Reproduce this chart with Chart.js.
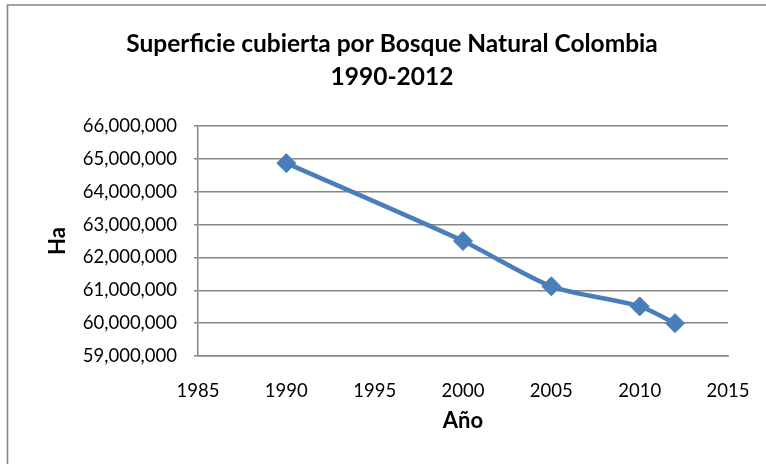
<!DOCTYPE html>
<html>
<head>
<meta charset="utf-8">
<script src="https://cdn.jsdelivr.net/npm/chart.js@4/dist/chart.umd.min.js"></script>
<style>
  html, body { margin: 0; padding: 0; background: #fff; }
  canvas { display: block; }
</style>
</head>
<body>
<canvas id="chart" width="766" height="464"></canvas>
<script>
/* Superficie cubierta por Bosque Natural – Colombia 1990-2012 */
const years = [1990, 2000, 2005, 2010, 2012];
const hectares = [64870000, 62500000, 61120000, 60510000, 60000000];
const titleLines = ["Superficie cubierta por Bosque Natural Colombia", "1990-2012"];
const xTitle = "Año";
const yTitle = "Ha";

const BLUE = "#4A7EBB";
const GRID = "#868686";
const FONT = "Lato, 'Open Sans', sans-serif";

// thin gray frame of the (cropped) chart object: only left and top edges show
const frame = {
  id: "frame",
  beforeDraw(chart) {
    const c = chart.ctx;
    c.save();
    c.fillStyle = "#fff";
    c.fillRect(0, 0, chart.width, chart.height);
    c.strokeStyle = GRID; c.lineWidth = 1.6;
    c.beginPath();
    c.moveTo(7.5, chart.height); c.lineTo(7.5, 5); c.lineTo(chart.width, 5);
    c.stroke();
    c.restore();
  },
};

new Chart(document.getElementById("chart").getContext("2d"), {
  type: "scatter",
  data: {
    datasets: [{
      data: years.map((y, i) => ({ x: y, y: hectares[i] })),
      showLine: true, tension: 0.25,
      borderColor: BLUE, borderWidth: 4.5,
      pointStyle: "rectRot", pointRadius: 9.5, pointBorderWidth: 1,
      pointBackgroundColor: BLUE, pointBorderColor: BLUE,
    }],
  },
  options: {
    responsive: false, animation: false, devicePixelRatio: 1,
    layout: { padding: { left: 18, right: 0, top: 0, bottom: 0 } },
    plugins: {
      legend: { display: false }, tooltip: { enabled: false },
      title: {
        display: true, text: titleLines, color: "#000",
        font: { family: FONT, size: 24.5, weight: "bold", lineHeight: "33px" },
        padding: { top: 27.5, bottom: 32.5 },
      },
    },
    scales: {
      x: {
        type: "linear", min: 1985, max: 2015,
        ticks: { stepSize: 5, padding: 16, color: "#000", font: { family: FONT, size: 18.5 }, callback: (v) => String(v) },
        grid: { display: false },
        border: { display: true, color: GRID, width: 1.5 },
        title: { display: true, text: xTitle, color: "#000", font: { family: FONT, size: 22, weight: "bold" }, padding: { top: 0, bottom: 29.8 } },
        afterFit: (s) => { s.height = 108; },
      },
      y: {
        min: 59000000, max: 66000000,
        ticks: { stepSize: 1000000, padding: 17, color: "#000", font: { family: FONT, size: 18.5 }, callback: (v) => v.toLocaleString("en-US") },
        grid: { color: GRID, lineWidth: 1.5, tickLength: 4 },
        border: { color: GRID, width: 1.5 },
        title: { display: true, text: yTitle, color: "#000", font: { family: FONT, size: 22, weight: "bold" }, padding: { top: 26.8, bottom: 0 } },
        afterFit: (s) => { s.width = 180; },
      },
      // empty spacer on the right so the plot ends where the original does
      yRight: {
        position: "right", display: true,
        ticks: { display: false }, grid: { display: false }, border: { display: false },
        afterFit: (s) => { s.width = 38; },
      },
    },
  },
  plugins: [frame],
});
</script>
</body>
</html>
